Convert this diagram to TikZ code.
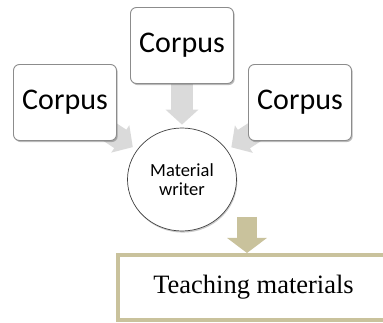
\documentclass[tikz,border=0pt]{standalone}
\usepackage{fontspec}
\setmainfont{Liberation Serif}
\newfontfamily\corpusfont{Carlito}
\usetikzlibrary{positioning, arrows.meta, shadows, shapes.geometric, backgrounds}
\definecolor{khaki}{RGB}{201,194,156}
\definecolor{arrowgray}{RGB}{218,218,218}

\begin{document}
\begin{tikzpicture}[
        x=1pt,
        y=-1pt,
        every node/.style={font=\corpusfont},
        source/.style={draw=black!45, line width=0.9pt, rounded corners=6pt, fill=white,
            minimum width=103pt, minimum height=76pt,
            font=\corpusfont\fontsize{30}{30}\selectfont,
            drop shadow={shadow xshift=1.2pt, shadow yshift=-1.6pt, opacity=0.45, fill=black!60}},
        writer/.style={ellipse, draw=black!75, line width=0.7pt, fill=white,
            minimum width=109pt, minimum height=103pt, inner sep=0pt, align=center,
            font=\corpusfont\fontsize{18.5}{19}\selectfont,
            drop shadow={shadow xshift=0.8pt, shadow yshift=-1.6pt, opacity=0.35, fill=black!60}},
        flow/.style={line width=22pt, draw=arrowgray, -{Triangle[width=32pt, length=15pt]}},
        result/.style={draw=khaki, line width=4pt, minimum width=271pt, minimum height=65pt,
            font=\rmfamily\fontsize{26.5}{26.5}\selectfont}
    ]
    \useasboundingbox (0,0) rectangle (383,323);

    % sources and writer
    \node[source] (top) at (182,45.5) {Corpus};
    \node[source] (left) at (65,102.5) {Corpus};
    \node[source] (right) at (300,102.5) {Corpus};
    \node[writer] (writer) at (182,179.5) {Material\\writer};

    % product
    \node[result] (teach) at (253.5,287.5) {Teaching materials};
    \coordinate (drop) at (247,217);

    \begin{scope}[on background layer]
        \draw[flow, shorten >=3pt] (top.center) -- (writer);
        \draw[flow, shorten >=5pt] (left.center) -- (writer);
        \draw[flow, shorten >=5pt] (right.center) -- (writer);
    \end{scope}
    \draw[flow, draw=khaki, line width=20pt, -{Triangle[width=39pt, length=15pt]}]
        (drop) -- (drop |- teach.north);
\end{tikzpicture}
\end{document}
